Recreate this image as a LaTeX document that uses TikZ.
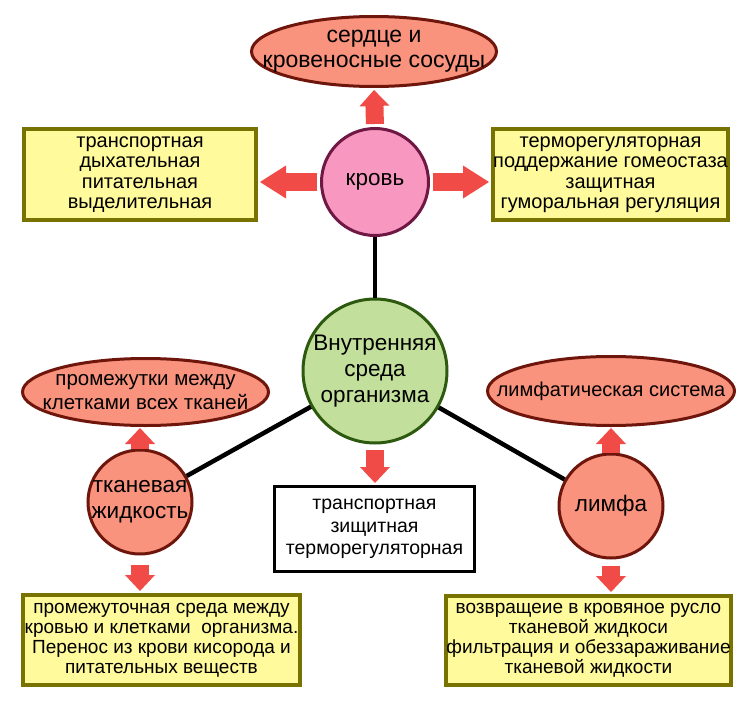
\documentclass[tikz,border=0pt]{standalone}
\usepackage{fontspec}
\setmainfont{Liberation Sans}
\usepackage{tikz}
\usetikzlibrary{shapes.geometric, arrows.meta, positioning}
\definecolor{OvalFill}{RGB}{250, 147, 125}
\definecolor{OvalBorder}{RGB}{110, 22, 12}
\definecolor{KrovFill}{RGB}{248, 152, 192}
\definecolor{KrovBorder}{RGB}{112, 24, 68}
\definecolor{SredaFill}{RGB}{194, 223, 155}
\definecolor{SredaBorder}{RGB}{45, 90, 15}
\definecolor{BoxFill}{RGB}{255, 250, 155}
\definecolor{BoxBorder}{RGB}{120, 114, 0}
\definecolor{ArrRed}{RGB}{240, 75, 70}

\begin{document}
\begin{tikzpicture}[x=1pt,y=-1pt,
  ctext/.style={align=center, text=black, font=\fontsize{22.5}{26}\selectfont},
  otext/.style={align=center, text=black, font=\fontsize{21}{25}\selectfont},
  oval/.style={ellipse, draw=OvalBorder, fill=OvalFill, line width=3pt, inner sep=0pt},
  rcirc/.style={circle, draw=OvalBorder, fill=OvalFill, line width=3pt, inner sep=0pt, minimum size=104pt, ctext},
  fbox/.style={rectangle, draw=BoxBorder, fill=BoxFill, line width=4pt, inner sep=0pt, align=center, font=\fontsize{20}{20.5}\selectfont},
  lowbox/.style={fbox, font=\fontsize{19}{20}\selectfont},
  link/.style={draw=black, line width=4.5pt},
  blockarr/.style={draw=ArrRed, line width=18pt, shorten <=3pt, shorten >=2pt,
    -{Triangle[width=30pt, length=16pt, line width=0pt]}},
  sidearr/.style={blockarr, -{Triangle[width=33pt, length=26pt, line width=0pt]}}]
  \path[use as bounding box, fill=white] (0,0) rectangle (750,701);

  % blood
  \node[oval, minimum width=245pt, minimum height=70pt,
    label={[otext, font=\fontsize{23}{25}\selectfont]center:{сердце и\\кровеносные сосуды}}] (serdce) at (374,51.5) {};
  \node[circle, draw=KrovBorder, fill=KrovFill, line width=3pt, inner sep=0pt,
    minimum size=107pt, ctext] (krov) at (375,182) {кровь};
  \node[fbox, minimum width=232pt, minimum height=91pt] (funcL) at (140,174.5)
    {транспортная\\дыхательная\\питательная\\выделительная};
  \node[fbox, minimum width=235pt, minimum height=91pt] (funcR) at (610.5,174.5)
    {терморегуляторная\\поддержание гомеостаза\\защитная\\гуморальная регуляция};

  % centre
  \node[circle, draw=SredaBorder, fill=SredaFill, line width=3pt, inner sep=0pt,
    minimum size=144pt, ctext] (sreda) at (375,371) {Внутренняя\\среда\\организма};
  \node[rectangle, draw=black, fill=white, line width=3pt, inner sep=0pt,
    minimum width=200pt, minimum height=85pt, align=center,
    font=\fontsize{19.5}{22.5}\selectfont] (funcSreda) at (374.5,529)
    {транспортная\\зищитная\\терморегуляторная};

  % tissue fluid
  \node[oval, minimum width=246pt, minimum height=67pt,
    label={[otext, font=\fontsize{20.5}{24}\selectfont]center:{промежутки между\\клетками всех тканей}}] (promezh) at (145.5,392) {};
  \node[rcirc, label={[ctext]center:{тканевая\\жидкость}}] (tkan) at (140,502) {};
  \node[lowbox, minimum width=277pt, minimum height=90pt] (funcTkan) at (161.5,640)
    {промежуточная среда между\\кровью и клетками~ организма.\\Перенос из крови кисорода и\\питательных веществ};

  % lymph
  \node[oval, minimum width=247pt, minimum height=69pt,
    label={[otext, font=\fontsize{20}{24}\selectfont]center:{лимфатическая система}}] (limfsys) at (611,391) {};
  \node[rcirc] (limfa) at (611,506) {лимфа};
  \node[lowbox, minimum width=277pt, minimum height=89pt] (funcLimfa) at (588.5,640.5)
    {возвращеие в кровяное русло\\тканевой жидкоси\\фильтрация и обеззараживание\\тканевой жидкости};

  % links
  \draw[link] (krov) -- (sreda);
  \draw[link] (sreda) -- (tkan);
  \draw[link] (sreda) -- (limfa);

  % arrows
  \draw[blockarr] (krov.north) -- (serdce.south);
  \draw[sidearr] (krov.west) -- (krov.west -| funcL.east);
  \draw[sidearr] (krov.east) -- (krov.east -| funcR.west);
  \draw[blockarr, shorten <=5pt] (sreda.south) -- (sreda.south |- funcSreda.north);
  \draw[blockarr, shorten <=0pt, shorten >=1pt] (tkan.north) -- (tkan.north |- promezh.south);
  \draw[blockarr, shorten <=9pt] (tkan.south) -- (tkan.south |- funcTkan.north);
  \draw[blockarr, shorten <=0pt, shorten >=1pt] (limfa.north) -- (limfa.north |- limfsys.south);
  \draw[blockarr, shorten <=6pt] (limfa.south) -- (limfa.south |- funcLimfa.north);
\end{tikzpicture}
\end{document}
